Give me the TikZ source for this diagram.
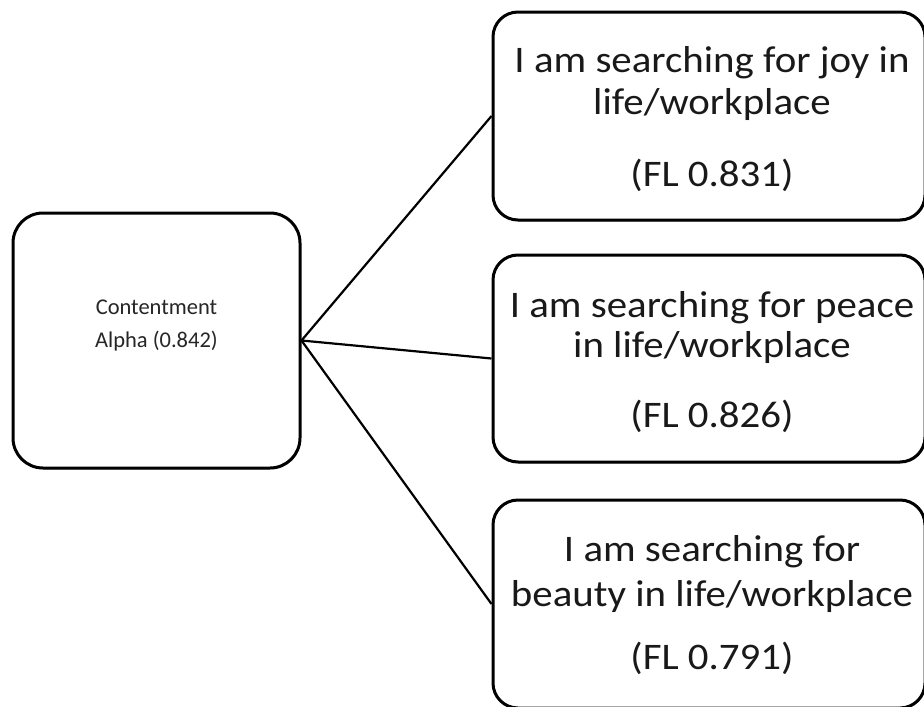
\documentclass[tikz,border=0pt]{standalone}
\usepackage{fontspec}
\setmainfont{Carlito}
\usetikzlibrary{shadows}
\newcommand{\wl}[1]{\scalebox{1.09}[1]{#1}}
\begin{document}
\begin{tikzpicture}[x=1pt,y=-1pt,
  box/.style={draw=black, line width=3pt, fill=white, inner sep=0pt,
    drop shadow={shadow xshift=0.8pt, shadow yshift=-1.5pt, opacity=0.35, fill=black!60}},
  bigtext/.style={inner sep=0pt, align=center, text=black!90,
    font=\fontsize{37.5}{41}\selectfont},
  smalltext/.style={inner sep=0pt, align=center, text=black!85,
    font=\fontsize{22.5}{33}\selectfont},
  link/.style={draw=black, line width=2.2pt}]
\useasboundingbox (0,0) rectangle (924,707);

% left box
\node[box, rounded corners=30pt, minimum width=287pt, minimum height=255pt] (c) at (156.5,340.5) {};
\node[smalltext] (ct) at (156.5,326) {Contentment\\Alpha (0.842)};

% right boxes
\node[box, rounded corners=25pt, minimum width=432pt, minimum height=208pt] (b1) at (709,116) {};
\node[box, rounded corners=25pt, minimum width=432pt, minimum height=207pt] (b2) at (709,358.5) {};
\node[box, rounded corners=25pt, minimum width=432pt, minimum height=208pt] (b3) at (709,604) {};

\node[bigtext] (t1) at (712,119) {\wl{I am searching for joy in}\\[1pt]\wl{life/workplace}\\[31pt]\wl{(FL 0.831)}};
\node[bigtext] (t2) at (712,362) {\wl{I am searching for peace}\\[-1pt]\wl{in life/workplace}\\[29pt]\wl{(FL 0.826)}};
\node[bigtext] (t3) at (712,605) {\wl{I am searching for}\\[4pt]\wl{beauty in life/workplace}\\[22pt]\wl{(FL 0.791)}};

% connectors
\draw[link] (c.east) -- (b1.west);
\draw[link] (c.east) -- (b2.west);
\draw[link] (c.east) -- (b3.west);
\end{tikzpicture}
\end{document}
